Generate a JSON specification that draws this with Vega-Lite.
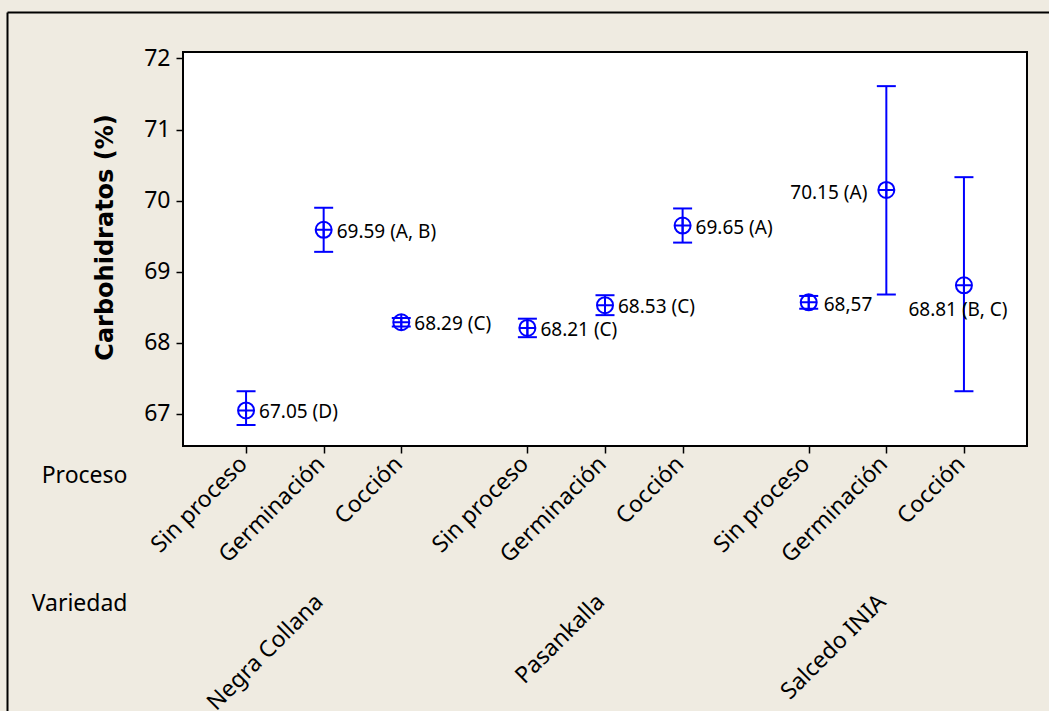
{
  "$schema": "https://vega.github.io/schema/vega-lite/v6.json",
  "autosize": {"type": "none"},
  "padding": {"left": 183, "top": 52, "right": 22, "bottom": 265},
  "background": "#EFEBE1",
  "width": 844,
  "height": 394,
  "data": {"values": [
    {"Variedad": "Negra Collana", "Proceso": "Sin proceso", "media": 67.05, "inferior": 66.845, "superior": 67.32, "etiqueta": "67.05 (D)"},
    {"Variedad": "Negra Collana", "Proceso": "Germinación", "media": 69.59, "inferior": 69.28, "superior": 69.90, "etiqueta": "69.59 (A, B)"},
    {"Variedad": "Negra Collana", "Proceso": "Cocción", "media": 68.29, "inferior": 68.23, "superior": 68.35, "etiqueta": "68.29 (C)"},
    {"Variedad": "Pasankalla", "Proceso": "Sin proceso", "media": 68.21, "inferior": 68.08, "superior": 68.34, "etiqueta": "68.21 (C)"},
    {"Variedad": "Pasankalla", "Proceso": "Germinación", "media": 68.53, "inferior": 68.39, "superior": 68.67, "etiqueta": "68.53 (C)"},
    {"Variedad": "Pasankalla", "Proceso": "Cocción", "media": 69.65, "inferior": 69.41, "superior": 69.89, "etiqueta": "69.65 (A)"},
    {"Variedad": "Salcedo INIA", "Proceso": "Sin proceso", "media": 68.57, "inferior": 68.48, "superior": 68.66, "etiqueta": "68,57"},
    {"Variedad": "Salcedo INIA", "Proceso": "Germinación", "media": 70.15, "inferior": 68.68, "superior": 71.61, "etiqueta": "70.15 (A)"},
    {"Variedad": "Salcedo INIA", "Proceso": "Cocción", "media": 68.81, "inferior": 67.32, "superior": 70.33, "etiqueta": "68.81 (B, C)"}
  ]},
  "config": {
    "view": {"stroke": "#000000", "strokeWidth": 2, "fill": "#FFFFFF"},
    "axis": {"domain": false, "tickColor": "#000000", "tickWidth": 1.5, "tickSize": 7, "labelColor": "#000000", "titleColor": "#000000", "labelFont": "Noto Sans", "titleFont": "Noto Sans", "labelFontSize": 23, "titleFontSize": 23, "titleFontWeight": "normal", "grid": false}
  },
  "resolve": {"scale": {"x": "independent", "y": "independent"}, "axis": {"x": "independent", "y": "independent"}},
  "layer": [
    {
      "data": {"values": [{}]},
      "mark": {"type": "point", "opacity": 0},
      "encoding": {
        "x": {"datum": 0, "type": "quantitative", "scale": {"domain": [0, 1], "range": [-176, 866]}, "axis": {"orient": "top", "offset": 40, "domain": true, "domainColor": "#000000", "domainWidth": 2, "labels": false, "ticks": false, "title": null}},
        "y": {"datum": 0, "type": "quantitative", "scale": {"domain": [0, 1], "range": [659, -40]}, "axis": {"orient": "left", "offset": 176, "domain": true, "domainColor": "#000000", "domainWidth": 2, "labels": false, "ticks": false, "title": null}}
      }
    },
    {
      "transform": [{"filter": "datum.Variedad === 'Negra Collana'"}],
      "resolve": {"axis": {"x": "independent", "y": "independent"}},
      "layer": [
        {"mark": {"type": "rule", "color": "#0000FF", "strokeWidth": 2},
         "encoding": {
           "x": {"field": "Proceso", "type": "nominal", "scale": {"type": "point", "domain": ["Sin proceso", "Germinación", "Cocción"], "padding": 0.8125, "range": [0, 281.333]}, "axis": {"orient": "bottom", "title": "Negra Collana", "labelAngle": -45, "labelAlign": "right", "labelBaseline": "middle", "labelPadding": 7, "labelOffset": -3, "titleAngle": -45, "titleAlign": "right", "titleBaseline": "middle", "titleX": 136, "titleY": 152}},
           "y": {"field": "inferior", "type": "quantitative", "scale": {"domain": [66.55, 72.09], "nice": false, "zero": false}, "axis": {"orient": "left", "values": [67, 68, 69, 70, 71, 72], "labelPadding": 6, "title": "Carbohidratos (%)", "titleFont": "DejaVu Sans", "titleFontWeight": "bold", "titleFontSize": 24, "titleBaseline": "middle", "titleX": -78, "titleY": 185}},
           "y2": {"field": "superior"}}},
        {"mark": {"type": "tick", "orient": "horizontal", "color": "#0000FF", "size": 19, "thickness": 2, "opacity": 1},
         "encoding": {
           "x": {"field": "Proceso", "type": "nominal", "scale": {"type": "point", "domain": ["Sin proceso", "Germinación", "Cocción"], "padding": 0.8125, "range": [0, 281.333]}, "axis": null},
           "y": {"field": "inferior", "type": "quantitative", "scale": {"domain": [66.55, 72.09], "nice": false, "zero": false}, "axis": null}}},
        {"mark": {"type": "tick", "orient": "horizontal", "color": "#0000FF", "size": 19, "thickness": 2, "opacity": 1},
         "encoding": {
           "x": {"field": "Proceso", "type": "nominal", "scale": {"type": "point", "domain": ["Sin proceso", "Germinación", "Cocción"], "padding": 0.8125, "range": [0, 281.333]}, "axis": null},
           "y": {"field": "superior", "type": "quantitative", "scale": {"domain": [66.55, 72.09], "nice": false, "zero": false}, "axis": null}}},
        {"mark": {"type": "point", "shape": "M-1,0L1,0M0,-1L0,1M1,0A1,1,0,1,1,-1,0A1,1,0,1,1,1,0", "size": 256, "filled": false, "color": "#0000FF", "strokeWidth": 2, "opacity": 1},
         "encoding": {
           "x": {"field": "Proceso", "type": "nominal", "scale": {"type": "point", "domain": ["Sin proceso", "Germinación", "Cocción"], "padding": 0.8125, "range": [0, 281.333]}, "axis": {"orient": "bottom", "title": "Proceso", "labels": false, "ticks": false, "titleAngle": 0, "titleAlign": "right", "titleBaseline": "alphabetic", "titleX": -56, "titleY": 36}},
           "y": {"field": "media", "type": "quantitative", "scale": {"domain": [66.55, 72.09], "nice": false, "zero": false}, "axis": null}}},
        {"mark": {"type": "text", "align": "left", "baseline": "middle", "dx": 13, "dy": 2, "font": "Noto Sans", "fontSize": 19, "color": "#000000"},
         "encoding": {
           "x": {"field": "Proceso", "type": "nominal", "scale": {"type": "point", "domain": ["Sin proceso", "Germinación", "Cocción"], "padding": 0.8125, "range": [0, 281.333]}, "axis": {"orient": "bottom", "title": "Variedad", "labels": false, "ticks": false, "titleAngle": 0, "titleAlign": "right", "titleBaseline": "alphabetic", "titleX": -56, "titleY": 164}},
           "y": {"field": "media", "type": "quantitative", "scale": {"domain": [66.55, 72.09], "nice": false, "zero": false}, "axis": null},
           "text": {"field": "etiqueta"}}}
      ]
    },
    {
      "transform": [{"filter": "datum.Variedad === 'Pasankalla'"}],
      "resolve": {"axis": {"x": "independent", "y": "independent"}},
      "layer": [
        {"mark": {"type": "rule", "color": "#0000FF", "strokeWidth": 2},
         "encoding": {
           "x": {"field": "Proceso", "type": "nominal", "scale": {"type": "point", "domain": ["Sin proceso", "Germinación", "Cocción"], "padding": 0.8125, "range": [281.333, 562.667]}, "axis": {"orient": "bottom", "title": "Pasankalla", "labelAngle": -45, "labelAlign": "right", "labelBaseline": "middle", "labelPadding": 7, "labelOffset": -3, "titleAngle": -45, "titleAlign": "right", "titleBaseline": "middle", "titleX": 417.333, "titleY": 152}},
           "y": {"field": "inferior", "type": "quantitative", "scale": {"domain": [66.55, 72.09], "nice": false, "zero": false}, "axis": null},
           "y2": {"field": "superior"}}},
        {"mark": {"type": "tick", "orient": "horizontal", "color": "#0000FF", "size": 19, "thickness": 2, "opacity": 1},
         "encoding": {
           "x": {"field": "Proceso", "type": "nominal", "scale": {"type": "point", "domain": ["Sin proceso", "Germinación", "Cocción"], "padding": 0.8125, "range": [281.333, 562.667]}, "axis": null},
           "y": {"field": "inferior", "type": "quantitative", "scale": {"domain": [66.55, 72.09], "nice": false, "zero": false}, "axis": null}}},
        {"mark": {"type": "tick", "orient": "horizontal", "color": "#0000FF", "size": 19, "thickness": 2, "opacity": 1},
         "encoding": {
           "x": {"field": "Proceso", "type": "nominal", "scale": {"type": "point", "domain": ["Sin proceso", "Germinación", "Cocción"], "padding": 0.8125, "range": [281.333, 562.667]}, "axis": null},
           "y": {"field": "superior", "type": "quantitative", "scale": {"domain": [66.55, 72.09], "nice": false, "zero": false}, "axis": null}}},
        {"mark": {"type": "point", "shape": "M-1,0L1,0M0,-1L0,1M1,0A1,1,0,1,1,-1,0A1,1,0,1,1,1,0", "size": 256, "filled": false, "color": "#0000FF", "strokeWidth": 2, "opacity": 1},
         "encoding": {
           "x": {"field": "Proceso", "type": "nominal", "scale": {"type": "point", "domain": ["Sin proceso", "Germinación", "Cocción"], "padding": 0.8125, "range": [281.333, 562.667]}, "axis": null},
           "y": {"field": "media", "type": "quantitative", "scale": {"domain": [66.55, 72.09], "nice": false, "zero": false}, "axis": null}}},
        {"mark": {"type": "text", "align": "left", "baseline": "middle", "dx": 13, "dy": 2, "font": "Noto Sans", "fontSize": 19, "color": "#000000"},
         "encoding": {
           "x": {"field": "Proceso", "type": "nominal", "scale": {"type": "point", "domain": ["Sin proceso", "Germinación", "Cocción"], "padding": 0.8125, "range": [281.333, 562.667]}, "axis": null},
           "y": {"field": "media", "type": "quantitative", "scale": {"domain": [66.55, 72.09], "nice": false, "zero": false}, "axis": null},
           "text": {"field": "etiqueta"}}}
      ]
    },
    {
      "transform": [{"filter": "datum.Variedad === 'Salcedo INIA'"}],
      "resolve": {"axis": {"x": "independent", "y": "independent"}},
      "layer": [
        {"mark": {"type": "rule", "color": "#0000FF", "strokeWidth": 2},
         "encoding": {
           "x": {"field": "Proceso", "type": "nominal", "scale": {"type": "point", "domain": ["Sin proceso", "Germinación", "Cocción"], "padding": 0.8125, "range": [562.667, 844]}, "axis": {"orient": "bottom", "title": "Salcedo INIA", "labelAngle": -45, "labelAlign": "right", "labelBaseline": "middle", "labelPadding": 7, "labelOffset": -3, "titleAngle": -45, "titleAlign": "right", "titleBaseline": "middle", "titleX": 698.667, "titleY": 152}},
           "y": {"field": "inferior", "type": "quantitative", "scale": {"domain": [66.55, 72.09], "nice": false, "zero": false}, "axis": null},
           "y2": {"field": "superior"}}},
        {"mark": {"type": "tick", "orient": "horizontal", "color": "#0000FF", "size": 19, "thickness": 2, "opacity": 1},
         "encoding": {
           "x": {"field": "Proceso", "type": "nominal", "scale": {"type": "point", "domain": ["Sin proceso", "Germinación", "Cocción"], "padding": 0.8125, "range": [562.667, 844]}, "axis": null},
           "y": {"field": "inferior", "type": "quantitative", "scale": {"domain": [66.55, 72.09], "nice": false, "zero": false}, "axis": null}}},
        {"mark": {"type": "tick", "orient": "horizontal", "color": "#0000FF", "size": 19, "thickness": 2, "opacity": 1},
         "encoding": {
           "x": {"field": "Proceso", "type": "nominal", "scale": {"type": "point", "domain": ["Sin proceso", "Germinación", "Cocción"], "padding": 0.8125, "range": [562.667, 844]}, "axis": null},
           "y": {"field": "superior", "type": "quantitative", "scale": {"domain": [66.55, 72.09], "nice": false, "zero": false}, "axis": null}}},
        {"mark": {"type": "point", "shape": "M-1,0L1,0M0,-1L0,1M1,0A1,1,0,1,1,-1,0A1,1,0,1,1,1,0", "size": 256, "filled": false, "color": "#0000FF", "strokeWidth": 2, "opacity": 1},
         "encoding": {
           "x": {"field": "Proceso", "type": "nominal", "scale": {"type": "point", "domain": ["Sin proceso", "Germinación", "Cocción"], "padding": 0.8125, "range": [562.667, 844]}, "axis": null},
           "y": {"field": "media", "type": "quantitative", "scale": {"domain": [66.55, 72.09], "nice": false, "zero": false}, "axis": null}}},
        {"transform": [{"filter": "datum.Proceso === 'Sin proceso'"}],
         "mark": {"type": "text", "align": "left", "baseline": "middle", "dx": 15, "dy": 3, "font": "Noto Sans", "fontSize": 19, "color": "#000000"},
         "encoding": {
           "x": {"field": "Proceso", "type": "nominal", "scale": {"type": "point", "domain": ["Sin proceso", "Germinación", "Cocción"], "padding": 0.8125, "range": [562.667, 844]}, "axis": null},
           "y": {"field": "media", "type": "quantitative", "scale": {"domain": [66.55, 72.09], "nice": false, "zero": false}, "axis": null},
           "text": {"field": "etiqueta"}}},
        {"transform": [{"filter": "datum.Proceso === 'Germinación'"}],
         "mark": {"type": "text", "align": "right", "baseline": "middle", "dx": -19, "dy": 3, "font": "Noto Sans", "fontSize": 19, "color": "#000000"},
         "encoding": {
           "x": {"field": "Proceso", "type": "nominal", "scale": {"type": "point", "domain": ["Sin proceso", "Germinación", "Cocción"], "padding": 0.8125, "range": [562.667, 844]}, "axis": null},
           "y": {"field": "media", "type": "quantitative", "scale": {"domain": [66.55, 72.09], "nice": false, "zero": false}, "axis": null},
           "text": {"field": "etiqueta"}}},
        {"transform": [{"filter": "datum.Proceso === 'Cocción'"}],
         "mark": {"type": "text", "align": "center", "baseline": "middle", "dx": -6, "dy": 25, "font": "Noto Sans", "fontSize": 19, "color": "#000000"},
         "encoding": {
           "x": {"field": "Proceso", "type": "nominal", "scale": {"type": "point", "domain": ["Sin proceso", "Germinación", "Cocción"], "padding": 0.8125, "range": [562.667, 844]}, "axis": null},
           "y": {"field": "media", "type": "quantitative", "scale": {"domain": [66.55, 72.09], "nice": false, "zero": false}, "axis": null},
           "text": {"field": "etiqueta"}}}
      ]
    }
  ]
}
